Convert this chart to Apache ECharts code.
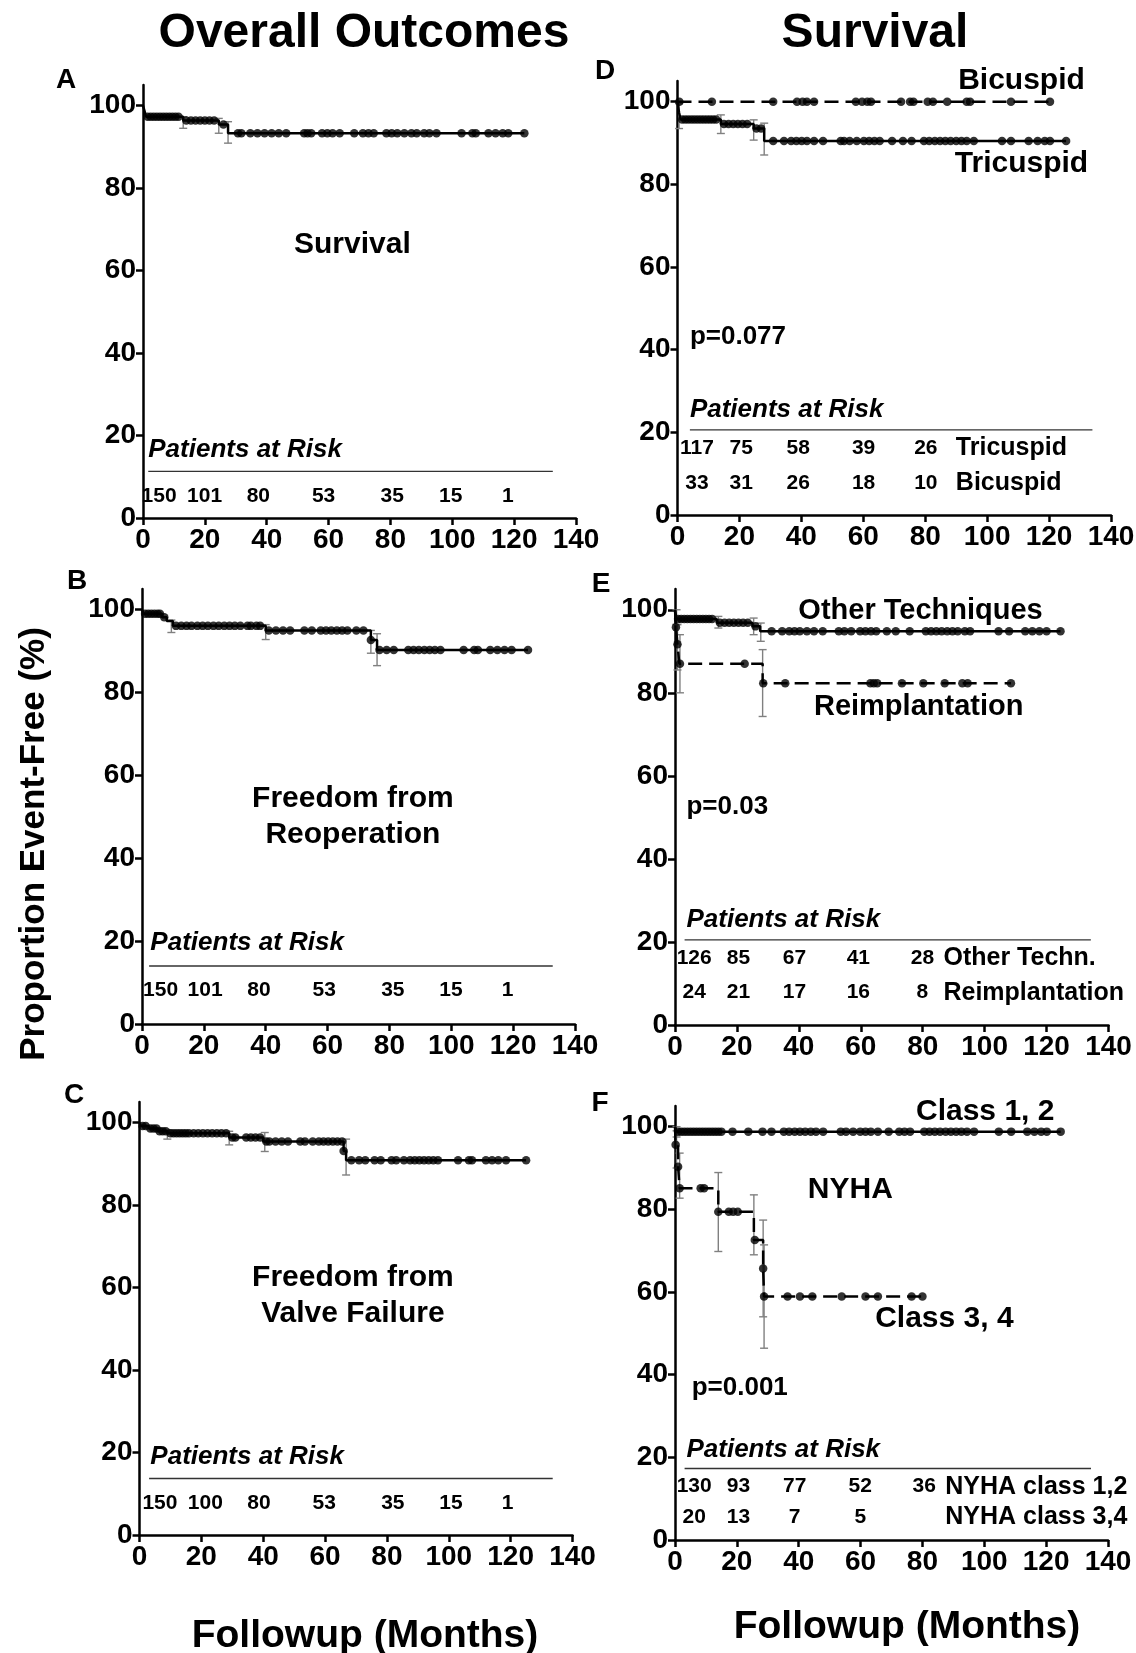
<!DOCTYPE html>
<html><head><meta charset="utf-8">
<script src="https://cdn.jsdelivr.net/npm/echarts@6/dist/echarts.min.js"></script>
<style>html,body{margin:0;padding:0;background:#fff}#c{width:1136px;height:1653px}</style>
</head><body><div id="c"></div>
<script>
// ================= DATA =================
const xTicks = [0, 20, 40, 60, 80, 100, 120, 140];
const yTicks = [0, 20, 40, 60, 80, 100];

// Panel A – overall survival
const kmA = [[0,100],[0.5,98.7],[1,97.3],[13,96.4],[24.5,95.4],[27.5,93.3],[123.3,93.3]];
const censorA = [1.5,2.5,3.5,4.5,5.5,6.5,7.5,8.5,9.5,10.5,11.5,14,15.5,17,18.5,20,21.5,23,26,30.7,31.8,34.7,37,39.3,41.6,43.9,46.3,52.1,53.2,54.4,57.9,59.6,61.3,63.6,68.3,71.1,72.9,74.6,78.7,80.4,82.2,84.5,86.8,88.5,90.9,92.6,94.9,103,106.5,107.6,111.7,114,116.3,118.1,123.3];
const ciA = [[13,97.3,94.5],[24.5,96.9,93.3],[27.5,96.1,90.9]];
const riskA = ['150','101','80','53','35','15','1'];

// Panel B – freedom from reoperation
const kmB = [[0,100],[0.5,99.0],[6.5,98.2],[8,97.3],[10,96.1],[40,95.0],[74,92.7],[76,90.3],[124.8,90.3]];
const censorB = [1,2,3,4,5,5.8,7.2,11,12.7,14.4,16,17.9,19.6,21.3,23.1,24.8,26.6,28.3,30,31.8,34.1,35.2,37,38.2,41,43.3,45.6,47.9,52.5,54.9,57.8,59.5,61.2,63,64.7,66.4,69.3,71.6,74,76.8,79.1,81.4,86.1,87.8,89.5,91.3,93,94.7,96.5,104,107.4,108.6,112.6,114.9,117.2,119.5,124.8];
const ciB = [[9.5,97.5,94.5],[40,96.4,92.8],[74,95.0,89.5],[76,94.2,86.5]];
const riskB = ['150','101','80','53','35','15','1'];

// Panel C – freedom from valve failure
const kmC = [[0,100],[0.5,99.2],[3,98.6],[6,97.9],[9,97.4],[29,96.4],[40,95.4],[66,93.1],[66.8,90.9],[125,90.9]];
const censorC = [1,2,3.5,4.5,5.5,6.5,7.5,8.5,10,11,12,13,14,15,16,17.5,19,20.5,22,23.5,25,26.5,28,30,31,34.5,36,37.5,39,41,42,44,46,48,52,53.5,56,58,59.5,61,62.5,64,65.5,66,68.5,71,73,76,78,81.5,83,85.5,87.5,89,90.5,92,93.5,95,96.5,103,106.5,107.5,112,114,116,118.5,125];
const ciC = [[9,98.2,96.0],[29,97.9,94.6],[40.5,97.6,93.0],[66.8,96.0,87.3]];
const riskC = ['150','100','80','53','35','15','1'];

// Panel D – survival by valve morphology
const kmTri = [[0,100],[0.5,97.4],[1,95.7],[14,94.6],[24.6,93.5],[28,90.5],[125.5,90.5]];
const censorTri = [1.5,2.5,3.5,4.5,5.5,6.5,7.5,8.5,9.5,10.5,11.5,12.5,15,16.5,18,19.5,21,22.5,25.5,27,30.9,34.4,36.7,38.4,40.1,41.8,44.1,47,52.7,53.8,55.6,57.9,60.2,61.9,63.6,65.3,69.3,72.8,75.6,79.6,81.3,83.1,84.8,86.5,88.2,90,91.7,93.4,95.7,104.8,107.7,113.4,116.3,118.6,120.3,125.5];
const ciTri = [[0.5,99.5,93.5],[14,96.8,92.3],[24.6,95.6,90.7],[28,94.8,87.1]];
const kmBi = [[0,100],[120.3,100]];
const censorBi = [0.6,11.1,30.9,38.6,40.4,41.8,44.1,57.6,59.6,61.3,62.5,72.2,75.1,76.2,80.8,82.5,87.1,93.4,94.5,107.7,120.3];
const riskTri = ['117','75','58','39','26'];
const riskBi = ['33','31','26','18','10'];
const groupsD = ['Tricuspid','Bicuspid'];

// Panel E – survival by technique
const kmOT = [[0,100],[0.5,97.8],[13.5,96.9],[25,96.0],[27.5,94.8],[124.5,94.8]];
const censorOT = [1,2,3,4,5,6,7,8,9,10,11,12,14.5,16,17.5,19,20.5,22,23.5,26,31.2,34.6,36.9,38.6,40.3,42.6,44.9,47.7,52.9,54.7,56.9,59.8,61.5,63.3,65,68.4,71.3,75.8,81,82.7,84.4,86.1,87.9,89.6,91.3,93.6,95.3,104.5,107.9,113.1,115.4,117.7,120,124.5];
const ciOT = [[0.5,100,96.5],[14,98.4,95.6],[25.4,98,94],[27.7,96.8,92.4]];
const kmRe = [[0,100],[0.3,95.8],[0.8,91.7],[1.4,87.0],[28.3,82.3],[108.5,82.3]];
const censorRe = [0.3,0.8,1.6,22.5,28.5,35.6,63.1,64.2,65.3,73.3,80.2,87.1,92.8,94.5,108.5];
const ciRe = [[0.8,96.4,85.5],[1.6,94,80],[28.3,90.4,74.3]];
const riskOT = ['126','85','67','41','28'];
const riskRe = ['24','21','17','16','8'];
const groupsE = ['Other Techn.','Reimplantation'];

// Panel F – survival by NYHA class
const kmC12 = [[0,100],[0.5,98.8],[124.7,98.8]];
const censorC12 = [1,2,3,4,5,6,7,8,9,10,11,12,13,14,15,18.6,23.7,28.3,31.2,35.2,36.9,38.7,40.4,42.1,43.9,45.6,47.9,53.6,55.3,57.6,59.9,61.6,63.3,65.6,69.1,72.5,74.2,76,80.6,82.3,84,85.7,87.5,89.2,90.9,92.6,94.4,96.7,104.7,108.7,113.9,116.2,118.4,120.2,124.7];
const ciC12 = [[0.5,100,97.5]];
const kmC34 = [[0,100],[0.2,95.6],[1,90.3],[1.5,85.1],[14,79.4],[25.5,72.6],[28.5,65.7],[28.8,58.9],[80,58.9]];
const censorC34 = [0.2,1,1.5,8.3,9.4,14,17.4,18.8,20.3,25.8,28.5,28.8,36.4,40.4,44.4,53.9,61.6,65.6,76.5,80];
const ciC34 = [[0.5,99,90],[1.5,93.6,82.7],[14,88.9,69.8],[25.5,83.5,69],[28.5,77.4,54],[28.8,71.4,46.4]];
const riskC12 = ['130','93','77','52','36'];
const riskC34 = ['20','13','7','5'];
const groupsF = ['NYHA class 1,2','NYHA class 3,4'];

// ================= LAYOUT =================
const FONT = '"Liberation Sans", Arial, Helvetica, sans-serif';
const font = (size, italic) => (italic ? 'italic ' : '') + 'bold ' + size + 'px ' + FONT;

const grids = [
  {left: 143,   top: 85,   width: 433,   height: 433},  // A
  {left: 142,   top: 589,  width: 433,   height: 435},  // B
  {left: 139.5, top: 1102, width: 433,   height: 433},  // C
  {left: 677.5, top: 81,   width: 433.5, height: 434},  // D
  {left: 675,   top: 589,  width: 433.5, height: 436},  // E
  {left: 675,   top: 1106, width: 433,   height: 434}   // F
];

// label anchors (in data units of each panel)
const riskLayout = [
  {xs:[5.2,19.9,37.3,58.4,80.6,99.5,118], ys:[5.25], head:[1.7,16.6], rule:[1.7,132.5,11.3]},
  {xs:[6,20.4,37.8,58.9,81.1,99.9,118.2], ys:[8.05], head:[2.7,19.5], rule:[2.3,132.8,14.0]},
  {xs:[6.6,21.3,38.6,59.7,81.9,100.7,119], ys:[7.7], head:[3.5,19.0], rule:[3.1,133.6,13.7]},
  {xs:[6.3,20.6,39,60.1,80.2], ys:[16.1,7.7], labelX:89.9, head:[4.0,25.4], rule:[4,134,20.6]},
  {xs:[6.2,20.5,38.6,59.2,79.9], ys:[16.1,7.8], labelX:86.7, head:[3.7,25.3], rule:[3.1,134.3,20.5]},
  {xs:[6.2,20.5,38.7,59.9,80.6], ys:[12.9,5.6], labelX:87.4, head:[3.7,21.8], rule:[3.1,134.5,17.3]}
];
const panelTexts = [
  [{x:67.7, y:66.2, t:'Survival', s:30}],
  [{x:68.2, y:50, t:'Freedom from\nReoperation', s:30, lh:36}],
  [{x:69, y:58, t:'Freedom from\nValve Failure', s:30, lh:36}],
  [{x:111.1, y:105.0, t:'Bicuspid', s:30}, {x:111.1, y:85.1, t:'Tricuspid', s:30}, {x:4.0, y:43.1, t:'p=0.077', s:26, a:'left'}],
  [{x:79.3, y:99.6, t:'Other Techniques', s:29}, {x:78.7, y:76.7, t:'Reimplantation', s:29}, {x:3.7, y:52.6, t:'p=0.03', s:26, a:'left'}],
  [{x:100.3, y:103.6, t:'Class 1, 2', s:30}, {x:56.7, y:84.7, t:'NYHA', s:30}, {x:87.1, y:53.6, t:'Class 3, 4', s:30}, {x:5.4, y:36.7, t:'p=0.001', s:26, a:'left'}]
];

// ================= BUILD =================
function levelAt(km, t) {
  let y = km[0][1];
  for (const p of km) { if (p[0] <= t + 1e-9) y = p[1]; else break; }
  return y;
}
function kmLine(gi, km, dashed) {
  return {type:'line', xAxisIndex:gi, yAxisIndex:gi, data:km, step:'end', showSymbol:false, symbol:'none',
    lineStyle:{color:'#000', width:2.5, type: dashed ? [14, 7] : 'solid'}, z:3, silent:true};
}
function censorSeries(gi, km, times) {
  return {type:'scatter', xAxisIndex:gi, yAxisIndex:gi, data: times.map(t => [t, levelAt(km, t)]),
    symbol:'circle', symbolSize:8.5, itemStyle:{color:'#000'}, z:4, silent:true};
}
function ciSeries(gi, ci) {
  return {type:'custom', xAxisIndex:gi, yAxisIndex:gi, data:ci, encode:{x:0, y:[1,2]}, z:2, silent:true,
    renderItem: (params, api) => {
      const x = api.value(0);
      const a = api.coord([x, api.value(1)]), b = api.coord([x, api.value(2)]);
      const w = 4, st = {stroke:'#808080', lineWidth:1.4};
      return {type:'group', children:[
        {type:'line', shape:{x1:a[0], y1:a[1], x2:b[0], y2:b[1]}, style:st},
        {type:'line', shape:{x1:a[0]-w, y1:a[1], x2:a[0]+w, y2:a[1]}, style:st},
        {type:'line', shape:{x1:b[0]-w, y1:b[1], x2:b[0]+w, y2:b[1]}, style:st}
      ]};
    }};
}
function textSeries(gi, items) {
  return {type:'custom', xAxisIndex:gi, yAxisIndex:gi, clip:false, silent:true, z:5,
    data: items.map((it, i) => [it.x, it.y, i]), encode:{x:0, y:1},
    renderItem: (params, api) => {
      const it = items[api.value(2)];
      const p = api.coord([api.value(0), api.value(1)]);
      const al = it.a || 'center';
      const style = {text: it.t, font: font(it.s, it.i), fill:'#000',
        align: al, textAlign: al, verticalAlign:'middle', textVerticalAlign:'middle'};
      if (it.lh) style.lineHeight = it.lh;
      return {type:'text', x:p[0], y:p[1], style: style};
    }};
}
function ruleSeries(gi, r) {
  return {type:'line', xAxisIndex:gi, yAxisIndex:gi, data:[[r[0], r[2]], [r[1], r[2]]], showSymbol:false, symbol:'none',
    lineStyle:{color:'#333', width:1.3}, z:1, silent:true};
}

const kmSets = [
  [{km:kmA, c:censorA, ci:ciA}],
  [{km:kmB, c:censorB, ci:ciB}],
  [{km:kmC, c:censorC, ci:ciC}],
  [{km:kmTri, c:censorTri, ci:ciTri}, {km:kmBi, c:censorBi, ci:[], dashed:true}],
  [{km:kmOT, c:censorOT, ci:ciOT}, {km:kmRe, c:censorRe, ci:ciRe, dashed:true}],
  [{km:kmC12, c:censorC12, ci:ciC12}, {km:kmC34, c:censorC34, ci:ciC34, dashed:true}]
];
const riskRows = [[riskA], [riskB], [riskC], [riskTri, riskBi], [riskOT, riskRe], [riskC12, riskC34]];
const rowLabels = [null, null, null, groupsD, groupsE, groupsF];

const series = [];
const xAxes = [], yAxes = [];
grids.forEach((g, gi) => {
  xAxes.push({type:'value', gridIndex:gi, min:xTicks[0], max:xTicks[xTicks.length-1], interval:20,
    axisLine:{show:true, onZero:false, lineStyle:{color:'#000', width:2.5}},
    axisTick:{show:true, inside:false, length:7, lineStyle:{color:'#000', width:2.5}},
    axisLabel:{show:true, color:'#000', fontSize:28, fontWeight:'bold', fontFamily:FONT, margin:8},
    splitLine:{show:false}});
  yAxes.push({type:'value', gridIndex:gi, min:0, max:105,
    axisLine:{show:true, onZero:false, lineStyle:{color:'#000', width:2.5}},
    axisTick:{show:true, inside:false, length:7, lineStyle:{color:'#000', width:2.5}, customValues:yTicks},
    axisLabel:{show:true, color:'#000', fontSize:28, fontWeight:'bold', fontFamily:FONT, margin:7, customValues:yTicks,
      formatter: v => (yTicks.indexOf(v) >= 0 ? String(v) : '')},
    splitLine:{show:false}});

  kmSets[gi].forEach(s => {
    if (s.ci.length) series.push(ciSeries(gi, s.ci));
    series.push(kmLine(gi, s.km, s.dashed));
    series.push(censorSeries(gi, s.km, s.c));
  });

  const L = riskLayout[gi];
  series.push(ruleSeries(gi, L.rule));
  const items = panelTexts[gi].slice();
  items.push({x:L.head[0], y:L.head[1], t:'Patients at Risk', s:26, i:true, a:'left'});
  riskRows[gi].forEach((row, ri) => {
    row.forEach((v, k) => items.push({x:L.xs[k], y:L.ys[ri], t:v, s:21}));
    if (rowLabels[gi]) items.push({x:L.labelX, y:L.ys[ri], t:rowLabels[gi][ri], s:25, a:'left'});
  });
  series.push(textSeries(gi, items));
});

const gText = (x, y, text, size, extra) => Object.assign({type:'text', x:x, y:y, silent:true,
  style:{text:text, font:font(size), fill:'#000', align:'center', textAlign:'center', verticalAlign:'middle', textVerticalAlign:'middle'}}, extra || {});

const option = {
  animation:false,
  backgroundColor:'#fff',
  grid: grids.map(g => Object.assign({containLabel:false, outerBoundsMode:'none'}, g)),
  xAxis: xAxes,
  yAxis: yAxes,
  series: series,
  graphic: [
    gText(364, 34, 'Overall Outcomes', 48),
    gText(875, 34, 'Survival', 48),
    gText(34, 844, 'Proportion Event-Free (%)', 35, {rotation: Math.PI/2}),
    gText(365, 1636, 'Followup (Months)', 39),
    gText(907, 1627, 'Followup (Months)', 39),
    gText(66, 80, 'A', 28), gText(77, 581, 'B', 28), gText(74, 1095, 'C', 28),
    gText(605, 71, 'D', 28), gText(601, 584, 'E', 28), gText(600, 1103, 'F', 28)
  ]
};

const chart = echarts.init(document.getElementById('c'), null, {renderer:'canvas', width:1136, height:1653});
chart.setOption(option);
</script></body></html>
